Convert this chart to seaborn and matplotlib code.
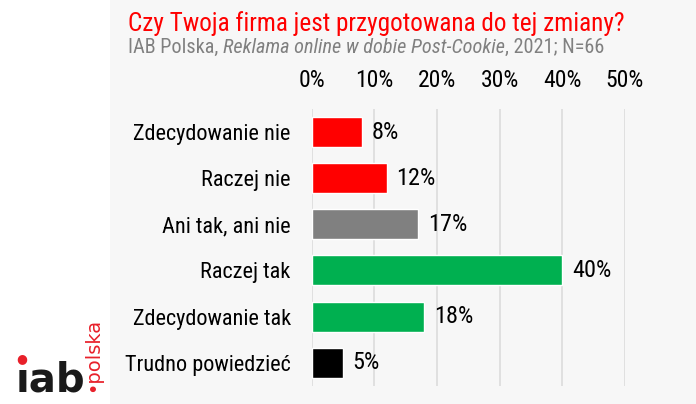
import matplotlib
matplotlib.use("Agg")
import matplotlib.pyplot as plt
from matplotlib import font_manager
from matplotlib.patches import Rectangle
import seaborn as sns
import pandas as pd

categories = ["Zdecydowanie nie", "Raczej nie", "Ani tak, ani nie",
              "Raczej tak", "Zdecydowanie tak", "Trudno powiedzieć"]
values = [8, 12, 17, 40, 18, 5]
bar_colors = ["#ff0000", "#ff0000", "#808080", "#00b050", "#00b050", "#000000"]
ticks = [0, 10, 20, 30, 40, 50]
tick_labels = ["0%", "10%", "20%", "30%", "40%", "50%"]
title = "Czy Twoja firma jest przygotowana do tej zmiany?"
subtitle_parts = ["IAB Polska, ", "Reklama online w dobie Post-Cookie", ", 2021; N=66"]

avail = {f.name for f in font_manager.fontManager.ttflist}
font = "DejaVu Sans"
for cand in ["Roboto Condensed", "Liberation Sans Narrow", "Roboto", "Liberation Sans"]:
    if cand in avail:
        font = cand
        break

sns.set_theme(style="white")
plt.rcParams["font.family"] = [font, "DejaVu Sans"]

fig = plt.figure(figsize=(6.96, 4.04), dpi=100)
fig.patch.set_facecolor("white")
bg = Rectangle((110 / 696, 0), 1 - 110 / 696, 1, transform=fig.transFigure,
               facecolor="#f7f7f7", edgecolor="none", zorder=-10)
fig.patches.append(bg)

ax = fig.add_axes([311.7 / 696, 18.3 / 404, 313 / 696, 276.7 / 404])
ax.set_facecolor("none")
ax.set_zorder(5)

df = pd.DataFrame({"cat": categories, "val": values})
sns.barplot(data=df, y="cat", x="val", hue="cat", palette=bar_colors, legend=False,
            width=0.65, ax=ax, orient="h", saturation=1)

ax.set_xlim(0, 50)
ax.set_ylim(5.5, -0.5)
ax.set_xticks(ticks)
ax.set_xticklabels(tick_labels, fontsize=17, color="black")
ax.xaxis.tick_top()
ax.tick_params(axis="x", length=0, pad=12)
ax.tick_params(axis="y", length=0, pad=15, labelsize=16, labelcolor="black")
ax.set_xlabel("")
ax.set_ylabel("")
ax.grid(axis="x", color="#dcdcdc", linewidth=1.2)
ax.set_axisbelow(True)
for s in ax.spines.values():
    s.set_visible(False)

for i, v in enumerate(values):
    ax.annotate(f"{v}%", xy=(v, i), xytext=(7, 0), textcoords="offset points",
                ha="left", va="center", fontsize=17.5, color="black")

fig.text(128 / 696, 1 - 31 / 404, title, color="#ff0000", fontsize=18.2, ha="left",
         va="baseline")

r = fig.canvas.get_renderer()
x = 128
for txt, st in zip(subtitle_parts, ["normal", "italic", "normal"]):
    t = fig.text(x / 696, 1 - 53 / 404, txt, color="#808080", fontsize=14.6, style=st,
                 ha="left", va="baseline")
    bb = t.get_window_extent(renderer=r)
    x += bb.width

# logo
fig.text(16 / 696, 1 - 391 / 404, "ıab", fontsize=29, fontweight="bold", color="#1a1a1a",
         ha="left", va="baseline", family="DejaVu Sans")
fig.text(22 / 696, 1 - 359 / 404, "●", fontsize=9, color="#e8202a", ha="center",
         va="center", family="DejaVu Sans")
fig.text(93 / 696, 1 - 392 / 404, "•polska", fontsize=14, color="#e8202a", rotation=90,
         ha="center", va="bottom", family="DejaVu Sans")

fig.savefig("out.png", dpi=100, facecolor=fig.get_facecolor())
